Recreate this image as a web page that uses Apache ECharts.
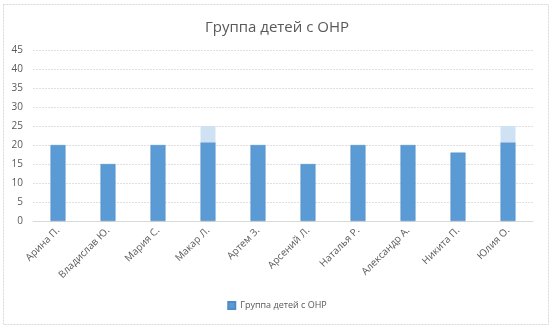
<!DOCTYPE html>
<html><head><meta charset="utf-8">
<script src="https://cdn.jsdelivr.net/npm/echarts@6/dist/echarts.min.js"></script>
<style>html,body{margin:0;padding:0;background:#fff}#c{width:554px;height:330px}</style>
</head><body><div id="c"></div>
<script>
var categories = ['Арина П.', 'Владислав Ю.', 'Мария С.', 'Макар Л.', 'Артем З.', 'Арсений Л.', 'Наталья Р.', 'Александр А.', 'Никита П.', 'Юлия О.'];
var values = [20, 15, 20, 20.7, 20, 15, 20, 20, 18, 20.7];
var highlightTops = [0, 0, 0, 4.3, 0, 0, 0, 0, 0, 4.3];
var yTicks = {min: 0, max: 45, interval: 5};
var titleText = 'Группа детей с ОНР';

var chart = echarts.init(document.getElementById('c'));
chart.setOption({
  animation: false,
  graphic: [{type: 'rect', shape: {x: 3.5, y: 4.5, width: 545, height: 320}, style: {fill: 'none', stroke: '#d9d9d9', lineWidth: 1, lineDash: [2, 1]}}],
  title: {text: titleText, left: 'center', top: 15, textStyle: {fontFamily: 'Open Sans', fontSize: 15, fontWeight: 'normal', color: '#595959'}},
  grid: {left: 33, right: 21, top: 50, bottom: 109},
  legend: {data: [titleText], bottom: 15, left: 'center', itemWidth: 7, itemHeight: 7, icon: 'rect', itemGap: 4, textStyle: {fontFamily: 'Open Sans', fontSize: 9, color: '#595959'}},
  xAxis: {type: 'category', data: categories, axisTick: {show: false}, axisLine: {lineStyle: {color: '#d9d9d9'}},
    axisLabel: {rotate: 45, fontFamily: 'Open Sans', fontSize: 10, color: '#595959', margin: 8, interval: 0}},
  yAxis: {type: 'value', min: yTicks.min, max: yTicks.max, interval: yTicks.interval, axisLine: {show: false}, axisTick: {show: false},
    axisLabel: {fontFamily: 'Open Sans', fontSize: 10, color: '#595959', margin: 10},
    splitLine: {lineStyle: {color: '#e0e0e0', type: [2, 1]}}},
  series: [
    {name: titleText, type: 'bar', stack: 's', data: values, barWidth: 15, itemStyle: {color: '#5b9bd5', borderColor: '#4f8bc4', borderWidth: 0.5}},
    {name: 'hl', type: 'bar', stack: 's', data: highlightTops, barWidth: 15, itemStyle: {color: '#cfe2f3'}}
  ]
});
</script></body></html>
